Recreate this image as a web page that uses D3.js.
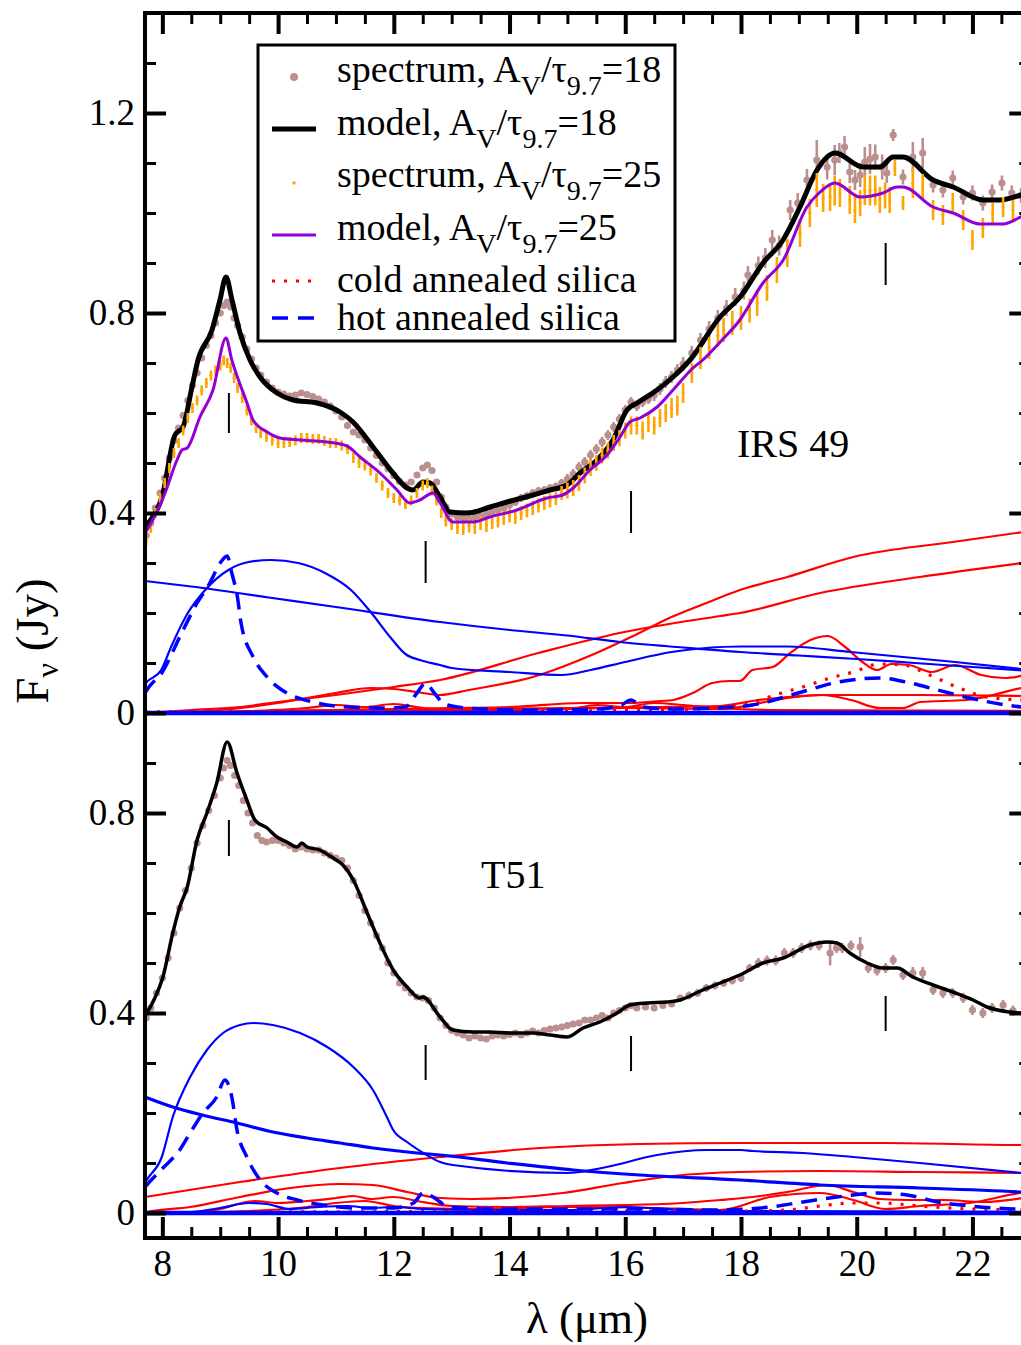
<!DOCTYPE html>
<html>
<head>
<meta charset="utf-8">
<script src="https://cdn.jsdelivr.net/npm/d3@7"></script>
<style>
  body { margin: 0; background: #fff; }
  svg { display: block; }
  text { font-family: "Liberation Serif", "Times New Roman", serif; fill: #000; }
</style>
</head>
<body>
<svg id="chart" width="1021" height="1345"></svg>
<script>
// ---------- IRS 49 (upper panel) ----------
// observed spectrum, A_V/tau_9.7 = 18 : [wavelength (um), flux (Jy), error]
const irsSpec18 = [
  [7.72,0.355,0.006],[7.80,0.38,0.006],[7.88,0.41,0.006],[7.96,0.44,0.006],[8.04,0.47,0.006],[8.12,0.51,0.006],
  [8.20,0.545,0.006],[8.28,0.57,0.006],[8.36,0.595,0.006],[8.44,0.625,0.006],[8.52,0.655,0.006],[8.60,0.68,0.006],
  [8.68,0.71,0.006],[8.76,0.735,0.006],[8.84,0.755,0.006],[8.92,0.78,0.006],[9.00,0.80,0.006],[9.06,0.815,0.006],
  [9.12,0.822,0.006],[9.18,0.812,0.006],[9.24,0.79,0.006],[9.30,0.775,0.006],[9.38,0.752,0.006],[9.46,0.728,0.006],
  [9.54,0.708,0.006],[9.62,0.69,0.006],[9.70,0.676,0.006],[9.80,0.662,0.006],[9.90,0.65,0.006],[10.0,0.642,0.006],
  [10.1,0.638,0.006],[10.2,0.634,0.006],[10.3,0.636,0.006],[10.4,0.64,0.006],[10.5,0.637,0.006],[10.6,0.633,0.006],
  [10.7,0.628,0.006],[10.8,0.622,0.006],[10.9,0.614,0.006],[11.0,0.604,0.006],[11.1,0.592,0.006],[11.2,0.575,0.006],
  [11.3,0.562,0.006],[11.4,0.556,0.006],[11.5,0.546,0.006],[11.6,0.53,0.006],[11.7,0.515,0.006],[11.8,0.50,0.006],
  [11.9,0.488,0.006],[12.0,0.475,0.006],[12.1,0.463,0.006],[12.2,0.456,0.006],[12.3,0.462,0.006],[12.4,0.476,0.006],
  [12.5,0.49,0.006],[12.58,0.496,0.006],[12.66,0.485,0.006],[12.74,0.462,0.006],[12.82,0.432,0.006],[12.9,0.412,0.006],
  [13.0,0.398,0.006],[13.1,0.392,0.008],[13.2,0.39,0.008],[13.3,0.388,0.008],[13.4,0.392,0.008],[13.5,0.394,0.008],
  [13.6,0.398,0.008],[13.7,0.402,0.008],[13.8,0.406,0.008],[13.9,0.41,0.008],[14.0,0.416,0.008],[14.1,0.422,0.008],
  [14.2,0.43,0.008],[14.3,0.434,0.008],[14.4,0.44,0.008],[14.5,0.444,0.008],[14.6,0.446,0.008],[14.7,0.45,0.008],
  [14.8,0.453,0.008],[14.9,0.46,0.008],[15.0,0.468,0.01],[15.1,0.478,0.01],[15.2,0.492,0.01],[15.3,0.502,0.01],
  [15.4,0.516,0.01],[15.5,0.528,0.01],[15.6,0.542,0.01],[15.7,0.556,0.01],[15.8,0.572,0.01],[15.9,0.588,0.01],
  [16.0,0.606,0.01],[16.1,0.622,0.01],[16.2,0.614,0.01],[16.3,0.622,0.01],[16.4,0.628,0.01],[16.5,0.636,0.012],
  [16.6,0.648,0.012],[16.7,0.662,0.012],[16.8,0.672,0.012],[16.9,0.686,0.012],[17.0,0.698,0.014],[17.15,0.72,0.014],
  [17.3,0.746,0.014],[17.45,0.768,0.016],[17.6,0.79,0.016],[17.75,0.81,0.016],[17.9,0.832,0.018],[18.05,0.845,0.018],
  [18.12,0.876,0.018],[18.3,0.895,0.018],[18.42,0.91,0.02],[18.54,0.946,0.02],[18.66,0.935,0.02],[18.85,1.006,0.02],
  [18.98,1.02,0.02],[19.14,1.066,0.022],[19.31,1.106,0.04],[19.49,1.092,0.025],[19.62,1.106,0.03],[19.7,1.12,0.02],
  [19.79,1.132,0.022],[19.88,1.082,0.022],[19.97,1.066,0.02],[20.06,1.076,0.024],[20.14,1.102,0.03],[20.23,1.108,0.03],
  [20.32,1.112,0.025],[20.44,1.092,0.025],[20.52,1.08,0.02],[20.63,1.156,0.012],[20.8,1.072,0.015],[20.97,1.112,0.03],
  [21.14,1.12,0.03],[21.32,1.056,0.015],[21.49,1.046,0.015],[21.66,1.07,0.015],[21.84,1.032,0.015],[22.0,1.04,0.015],
  [22.18,1.02,0.015],[22.34,1.042,0.015],[22.51,1.06,0.015],[22.68,1.04,0.015],[22.84,1.035,0.015]
];

// observed spectrum, A_V/tau_9.7 = 25
const irsSpec25 = [
  [7.72,0.345,0.01],[7.80,0.37,0.01],[7.88,0.40,0.01],[7.96,0.43,0.01],[8.04,0.46,0.01],[8.12,0.49,0.01],
  [8.20,0.52,0.01],[8.28,0.54,0.01],[8.36,0.565,0.01],[8.44,0.59,0.01],[8.52,0.61,0.01],[8.60,0.625,0.01],
  [8.68,0.645,0.01],[8.76,0.66,0.01],[8.84,0.675,0.01],[8.92,0.685,0.01],[9.00,0.695,0.01],[9.06,0.705,0.01],
  [9.12,0.70,0.01],[9.18,0.69,0.01],[9.24,0.67,0.01],[9.30,0.65,0.01],[9.38,0.63,0.01],[9.46,0.605,0.01],
  [9.54,0.585,0.01],[9.62,0.57,0.01],[9.70,0.56,0.01],[9.80,0.552,0.01],[9.90,0.545,0.01],[10.0,0.54,0.01],
  [10.1,0.54,0.01],[10.2,0.542,0.01],[10.3,0.545,0.01],[10.4,0.55,0.01],[10.5,0.55,0.01],[10.6,0.548,0.01],
  [10.7,0.548,0.01],[10.8,0.544,0.01],[10.9,0.54,0.01],[11.0,0.54,0.01],[11.1,0.535,0.01],[11.2,0.528,0.01],
  [11.3,0.51,0.01],[11.4,0.50,0.01],[11.5,0.495,0.01],[11.6,0.485,0.01],[11.7,0.47,0.01],[11.8,0.455,0.01],
  [11.9,0.44,0.01],[12.0,0.43,0.01],[12.1,0.425,0.01],[12.2,0.418,0.01],[12.3,0.425,0.01],[12.4,0.44,0.01],
  [12.5,0.455,0.01],[12.58,0.46,0.01],[12.66,0.445,0.01],[12.74,0.425,0.01],[12.82,0.40,0.01],[12.9,0.385,0.012],
  [13.0,0.378,0.012],[13.1,0.372,0.014],[13.2,0.37,0.014],[13.3,0.375,0.014],[13.4,0.372,0.014],[13.5,0.38,0.014],
  [13.6,0.376,0.014],[13.7,0.382,0.014],[13.8,0.385,0.014],[13.9,0.39,0.014],[14.0,0.395,0.014],[14.1,0.392,0.014],
  [14.2,0.40,0.014],[14.3,0.405,0.014],[14.4,0.41,0.014],[14.5,0.415,0.014],[14.6,0.42,0.014],[14.7,0.425,0.014],
  [14.8,0.43,0.014],[14.9,0.44,0.014],[15.0,0.445,0.016],[15.1,0.45,0.016],[15.2,0.46,0.016],[15.3,0.475,0.016],
  [15.4,0.49,0.016],[15.5,0.50,0.016],[15.6,0.515,0.016],[15.7,0.525,0.016],[15.8,0.54,0.016],[15.9,0.55,0.016],
  [16.0,0.565,0.016],[16.1,0.575,0.018],[16.2,0.575,0.018],[16.3,0.565,0.018],[16.4,0.58,0.018],[16.5,0.575,0.018],
  [16.6,0.59,0.018],[16.7,0.60,0.018],[16.8,0.61,0.02],[16.9,0.615,0.02],[17.0,0.64,0.02],[17.15,0.68,0.02],
  [17.3,0.71,0.022],[17.45,0.73,0.022],[17.6,0.755,0.022],[17.7,0.766,0.024],[17.85,0.78,0.024],[18.0,0.79,0.024],
  [18.15,0.805,0.024],[18.28,0.82,0.026],[18.45,0.85,0.026],[18.62,0.886,0.026],[18.8,0.92,0.028],[19.02,0.96,0.028],
  [19.19,1.0,0.028],[19.31,1.046,0.034],[19.42,1.03,0.028],[19.54,1.032,0.028],[19.62,1.045,0.03],[19.71,1.04,0.028],
  [19.88,1.026,0.028],[19.97,1.006,0.026],[20.06,1.02,0.026],[20.14,1.046,0.03],[20.23,1.045,0.03],[20.32,1.045,0.03],
  [20.4,1.026,0.026],[20.49,1.035,0.026],[20.57,1.026,0.026],[20.66,1.09,0.016],[20.8,1.02,0.014],[20.97,1.06,0.03],
  [21.14,1.052,0.026],[21.32,1.006,0.02],[21.49,0.996,0.02],[21.66,1.02,0.02],[21.84,0.986,0.02],[22.0,0.946,0.02],
  [22.18,0.97,0.02],[22.35,1.0,0.02],[22.53,1.012,0.02],[22.7,1.006,0.02]
];

// fitted models [wavelength, flux]
const irsModel18 = [
  [7.7,0.37],[7.735,0.376],[7.994,0.432],[8.218,0.556],[8.357,0.572],[8.512,0.652],[8.616,0.706],[8.858,0.766],
  [8.996,0.826],[9.10,0.872],[9.204,0.826],[9.342,0.76],[9.515,0.706],[9.688,0.672],[9.981,0.64],[10.258,0.626],
  [10.673,0.62],[11.07,0.602],[11.295,0.582],[11.641,0.532],[11.986,0.48],[12.228,0.45],[12.332,0.446],[12.505,0.462],
  [12.626,0.46],[12.798,0.432],[12.971,0.402],[13.265,0.40],[13.663,0.412],[13.956,0.422],[14.406,0.436],[14.70,0.446],
  [14.993,0.456],[15.218,0.48],[15.512,0.506],[15.788,0.546],[16.03,0.606],[16.203,0.62],[16.549,0.646],[16.825,0.672],
  [17.119,0.706],[17.638,0.792],[17.984,0.832],[18.381,0.90],[18.727,0.946],[19.02,1.012],[19.314,1.086],[19.625,1.12],
  [20.109,1.092],[20.403,1.092],[20.628,1.112],[20.801,1.112],[21.319,1.066],[21.665,1.052],[22.183,1.026],[22.477,1.026],
  [22.84,1.036],[23.0,1.042]
];
const irsModel25 = [
  [7.7,0.36],[7.735,0.366],[8.046,0.44],[8.253,0.506],[8.34,0.526],[8.43,0.53],[8.65,0.592],[8.875,0.646],[9.10,0.75],
  [9.20,0.706],[9.255,0.686],[9.463,0.62],[9.567,0.586],[9.81,0.562],[10.033,0.55],[10.38,0.546],[10.846,0.542],
  [11.19,0.534],[11.416,0.512],[11.76,0.48],[12.055,0.446],[12.28,0.42],[12.45,0.426],[12.677,0.44],[12.8,0.42],
  [13.02,0.382],[13.37,0.382],[13.66,0.392],[14.13,0.406],[14.65,0.43],[14.92,0.436],[15.1,0.45],[15.39,0.486],
  [15.685,0.516],[15.91,0.552],[16.08,0.582],[16.255,0.59],[16.55,0.612],[16.825,0.646],[17.17,0.69],[17.34,0.706],
  [17.64,0.742],[17.98,0.786],[18.38,0.86],[18.73,0.906],[19.14,1.012],[19.366,1.042],[19.625,1.06],[20.06,1.032],
  [20.455,1.04],[20.7,1.052],[20.8,1.052],[21.32,1.012],[21.665,1.0],[22.13,0.978],[22.53,0.978],[22.84,0.992],[23.0,0.998]
];

// dust components for IRS 49
const irsBlueLine = [
  [7.7,0.264],[8.5,0.253],[9.9,0.23],[11.0,0.212],[12.8,0.182],[14.0,0.166],[15.0,0.155],[15.91,0.142],
  [17.0,0.131],[17.98,0.122],[19.0,0.115],[20.0,0.108],[21.0,0.1],[22.0,0.092],[23.0,0.084]
];
const irsBlueBump = [
  [7.7,0.058],[7.73,0.062],[7.98,0.086],[8.15,0.132],[8.44,0.2],[8.74,0.246],[9.14,0.286],[9.49,0.302],[9.88,0.306],
  [10.35,0.300],[10.81,0.28],[11.26,0.246],[11.6,0.202],[11.95,0.15],[12.2,0.118],[12.45,0.106],[12.8,0.096],
  [13.0,0.09],[14.0,0.082],[14.9,0.076],[15.4,0.086],[16.0,0.102],[16.8,0.122],[17.4,0.13],[18.0,0.133],[18.8,0.133],
  [19.9,0.122],[21.7,0.102],[23.0,0.086]
];
const irsHotSilica = [
  [7.7,0.04],[7.73,0.046],[8.0,0.082],[8.3,0.152],[8.6,0.22],[8.82,0.26],[9.0,0.30],[9.12,0.314],[9.2,0.28],[9.3,0.23],
  [9.36,0.18],[9.57,0.112],[9.81,0.072],[10.15,0.04],[10.6,0.022],[11.2,0.012],[11.9,0.01],[12.2,0.012],[12.4,0.04],
  [12.55,0.06],[12.7,0.04],[12.85,0.02],[13.0,0.014],[13.5,0.008],[14.5,0.006],[15.5,0.008],[15.9,0.014],[16.1,0.026],
  [16.3,0.012],[16.8,0.008],[17.6,0.01],[18.2,0.016],[19.05,0.042],[19.6,0.06],[20.4,0.07],[20.85,0.062],[21.4,0.046],
  [21.95,0.03],[22.84,0.012],[23.0,0.01]
];
const irsColdSilica = [
  [7.7,0.002],[10.0,0.003],[12.0,0.004],[14.0,0.004],[16.0,0.005],[17.2,0.008],[17.64,0.01],[18.2,0.022],[18.7,0.04],
  [19.07,0.052],[19.54,0.07],[19.94,0.082],[20.4,0.098],[20.8,0.096],[21.26,0.076],[21.77,0.05],[22.24,0.032],
  [22.84,0.026],[23.0,0.025]
];
const irsRed = [
  [[7.7,0.0],[8.5,0.002],[9.0,0.006],[9.5,0.012],[10.0,0.02],[10.5,0.03],[11.0,0.04],[11.6,0.05],[12.0,0.048],
   [12.4,0.042],[12.8,0.036],[13.3,0.046],[14.4,0.072],[15.5,0.12],[16.1,0.152],[16.8,0.192],[17.4,0.22],[17.98,0.246],
   [18.8,0.272],[19.94,0.312],[21.66,0.342],[23.0,0.364]],
  [[7.7,0.0],[8.5,0.006],[9.34,0.012],[10.0,0.022],[11.0,0.036],[12.0,0.052],[12.8,0.066],[14.5,0.12],[15.9,0.16],
   [17.64,0.194],[17.98,0.2],[19.37,0.24],[21.09,0.272],[23.0,0.302]],
  [[7.7,0.0],[10.0,0.004],[12.0,0.008],[13.0,0.01],[14.0,0.012],[15.27,0.02],[16.08,0.02],[16.6,0.024],[16.83,0.026],
   [17.17,0.04],[17.5,0.06],[17.8,0.064],[17.98,0.064],[18.2,0.086],[18.55,0.092],[18.85,0.12],[19.2,0.146],[19.5,0.154],
   [19.8,0.132],[20.1,0.102],[20.35,0.086],[20.6,0.098],[20.9,0.096],[21.3,0.082],[21.7,0.096],[22.15,0.076],
   [22.55,0.07],[23.0,0.078]],
  [[7.7,0.0],[9.0,0.002],[11.0,0.006],[13.0,0.008],[15.0,0.01],[16.5,0.012],[17.64,0.014],[18.3,0.026],[18.8,0.032],
   [19.4,0.036],[21.1,0.036],[23.0,0.034]],
  [[7.7,0.0],[12.0,0.004],[14.0,0.006],[16.0,0.01],[17.64,0.008],[18.8,0.03],[19.4,0.036],[19.9,0.026],[20.4,0.01],
   [20.8,0.01],[21.1,0.022],[21.9,0.026],[22.84,0.05],[23.0,0.054]],
  [[7.7,0.0],[9.5,0.004],[10.5,0.01],[11.0,0.016],[11.5,0.012],[12.0,0.018],[12.5,0.01],[13.0,0.006],[14.0,0.008],
   [15.0,0.008],[15.5,0.016],[16.0,0.012],[16.5,0.02],[17.0,0.016],[17.6,0.01],[18.5,0.006],[23.0,0.004]]
];
const irsZero = [[7.7,0],[23.0,0]];

// ---------- T51 (lower panel) ----------
const t51Spec = [
  [7.72,0.39,0.006],[7.80,0.41,0.006],[7.90,0.44,0.006],[8.00,0.47,0.006],[8.10,0.51,0.006],[8.20,0.56,0.006],
  [8.30,0.61,0.006],[8.40,0.645,0.006],[8.50,0.69,0.006],[8.60,0.74,0.006],[8.70,0.775,0.006],[8.80,0.805,0.006],
  [8.90,0.835,0.006],[9.00,0.87,0.006],[9.06,0.89,0.006],[9.12,0.905,0.006],[9.18,0.895,0.006],[9.25,0.875,0.006],
  [9.32,0.855,0.006],[9.40,0.825,0.006],[9.48,0.80,0.006],[9.56,0.78,0.006],[9.64,0.755,0.006],[9.72,0.745,0.006],
  [9.80,0.742,0.006],[9.90,0.745,0.006],[10.0,0.745,0.006],[10.1,0.74,0.006],[10.2,0.735,0.006],[10.3,0.728,0.006],
  [10.4,0.732,0.006],[10.5,0.728,0.006],[10.6,0.726,0.006],[10.7,0.726,0.006],[10.8,0.72,0.006],[10.9,0.715,0.006],
  [11.0,0.71,0.006],[11.1,0.705,0.006],[11.2,0.69,0.006],[11.3,0.665,0.006],[11.4,0.635,0.006],[11.5,0.605,0.006],
  [11.6,0.58,0.006],[11.7,0.555,0.006],[11.8,0.53,0.006],[11.9,0.50,0.006],[12.0,0.48,0.006],[12.1,0.46,0.006],
  [12.2,0.45,0.006],[12.3,0.44,0.006],[12.4,0.432,0.006],[12.5,0.43,0.006],[12.6,0.425,0.006],[12.7,0.41,0.006],
  [12.8,0.39,0.006],[12.9,0.375,0.006],[13.0,0.365,0.006],[13.1,0.36,0.006],[13.2,0.356,0.006],[13.3,0.35,0.006],
  [13.4,0.354,0.006],[13.5,0.35,0.006],[13.6,0.348,0.006],[13.7,0.354,0.006],[13.8,0.356,0.006],[13.9,0.354,0.006],
  [14.0,0.357,0.006],[14.1,0.36,0.006],[14.2,0.356,0.006],[14.3,0.36,0.006],[14.4,0.364,0.006],[14.5,0.36,0.006],
  [14.6,0.365,0.006],[14.7,0.368,0.006],[14.8,0.37,0.006],[14.9,0.372,0.006],[15.0,0.375,0.006],[15.1,0.378,0.006],
  [15.2,0.38,0.006],[15.3,0.386,0.006],[15.4,0.386,0.006],[15.5,0.39,0.006],[15.6,0.395,0.006],[15.7,0.39,0.006],
  [15.8,0.40,0.006],[15.9,0.405,0.006],[16.0,0.41,0.006],[16.1,0.415,0.006],[16.2,0.41,0.006],[16.35,0.412,0.006],
  [16.5,0.41,0.006],[16.65,0.415,0.006],[16.8,0.418,0.006],[16.95,0.43,0.006],[17.1,0.435,0.008],[17.25,0.44,0.008],
  [17.4,0.45,0.008],[17.55,0.455,0.008],[17.7,0.46,0.008],[17.85,0.465,0.008],[18.0,0.47,0.008],[18.15,0.49,0.008],
  [18.3,0.50,0.01],[18.45,0.505,0.01],[18.6,0.505,0.01],[18.75,0.52,0.01],[18.9,0.52,0.01],[19.05,0.53,0.01],
  [19.2,0.535,0.01],[19.35,0.535,0.01],[19.54,0.52,0.025],[19.65,0.53,0.01],[19.75,0.53,0.01],[19.9,0.535,0.01],
  [20.06,0.532,0.02],[20.2,0.49,0.01],[20.35,0.485,0.01],[20.5,0.49,0.01],[20.63,0.506,0.01],[20.8,0.476,0.01],
  [20.97,0.48,0.012],[21.14,0.48,0.012],[21.32,0.446,0.01],[21.49,0.44,0.01],[21.66,0.44,0.01],[21.84,0.43,0.01],
  [22.0,0.406,0.01],[22.18,0.40,0.01],[22.34,0.41,0.01],[22.53,0.416,0.01],[22.7,0.405,0.01]
];
const t51Model = [
  [7.7,0.395],[7.73,0.40],[7.87,0.43],[8.01,0.472],[8.18,0.56],[8.3,0.612],[8.43,0.652],[8.6,0.746],[8.77,0.80],
  [8.94,0.86],[9.12,0.942],[9.29,0.88],[9.46,0.826],[9.6,0.786],[9.81,0.77],[9.98,0.752],[10.15,0.742],[10.33,0.732],
  [10.41,0.74],[10.5,0.732],[10.72,0.726],[10.95,0.71],[11.12,0.696],[11.3,0.666],[11.54,0.60],[11.76,0.54],
  [11.99,0.486],[12.23,0.452],[12.45,0.43],[12.5,0.432],[12.8,0.392],[13.02,0.366],[13.37,0.362],[13.66,0.362],
  [14.0,0.36],[14.4,0.36],[14.7,0.356],[14.99,0.352],[15.27,0.37],[15.56,0.382],[15.86,0.40],[16.08,0.416],
  [16.38,0.42],[16.72,0.422],[16.95,0.426],[17.3,0.444],[17.64,0.46],[17.98,0.476],[18.38,0.50],[18.73,0.51],
  [19.19,0.536],[19.49,0.542],[19.66,0.54],[19.88,0.52],[20.18,0.50],[20.45,0.49],[20.7,0.49],[20.97,0.472],
  [21.32,0.456],[21.66,0.442],[22.01,0.426],[22.25,0.412],[22.65,0.402],[22.84,0.40],[23.0,0.40]
];
const t51BlueBump = [
  [7.7,0.06],[7.73,0.066],[7.99,0.112],[8.18,0.192],[8.48,0.272],[8.77,0.326],[9.05,0.36],[9.34,0.376],[9.57,0.38],
  [9.91,0.376],[10.38,0.36],[10.85,0.332],[11.3,0.292],[11.64,0.246],[11.88,0.192],[11.99,0.166],[12.23,0.142],
  [12.57,0.116],[12.8,0.102],[13.02,0.096],[14.99,0.08],[15.68,0.092],[16.55,0.116],[17.41,0.126],[18.0,0.126],
  [18.2,0.124],[19.07,0.12],[19.94,0.112],[21.09,0.1],[22.84,0.08],[23.0,0.078]
];
const t51BlueLine = [
  [7.7,0.232],[8.18,0.212],[8.69,0.196],[9.29,0.18],[9.91,0.162],[10.5,0.15],[11.07,0.14],[11.64,0.13],[12.4,0.12],
  [12.8,0.116],[13.96,0.1],[15.1,0.086],[16.25,0.076],[17.98,0.066],[19.37,0.056],[21.09,0.05],[22.84,0.042],[23.0,0.041]
];
const t51HotSilica = [
  [7.7,0.052],[7.73,0.056],[8.01,0.09],[8.3,0.126],[8.48,0.16],[8.7,0.2],[8.94,0.232],[9.08,0.266],[9.2,0.232],
  [9.29,0.166],[9.46,0.112],[9.69,0.066],[9.98,0.04],[10.33,0.026],[10.78,0.016],[11.36,0.01],[11.99,0.01],
  [12.34,0.02],[12.51,0.04],[12.68,0.032],[12.8,0.022],[12.92,0.012],[14.0,0.008],[16.0,0.008],[17.64,0.006],
  [18.5,0.012],[19.07,0.022],[19.66,0.032],[20.35,0.04],[20.87,0.036],[21.4,0.022],[21.96,0.014],[22.84,0.008],[23.0,0.008]
];
const t51ColdSilica = [
  [7.7,0.0],[10.0,0.002],[14.0,0.003],[17.0,0.004],[18.2,0.004],[18.8,0.006],[19.37,0.014],[19.94,0.02],[20.4,0.02],
  [21.09,0.014],[21.95,0.008],[23.0,0.006]
];
const t51Red = [
  [[7.7,0.032],[9.34,0.062],[11.07,0.09],[12.8,0.112],[14.53,0.13],[16.25,0.138],[17.98,0.14],[20.5,0.14],[22.84,0.136],[23.0,0.136]],
  [[7.7,0.0],[7.73,0.002],[8.48,0.012],[9.34,0.032],[10.21,0.05],[11.07,0.058],[11.64,0.056],[12.23,0.042],[12.8,0.03],
   [13.37,0.028],[14.92,0.04],[15.96,0.06],[16.83,0.074],[17.98,0.082],[19.37,0.084],[21.09,0.082],[23.0,0.08]],
  [[7.7,0.0],[8.5,0.002],[9.0,0.008],[9.3,0.018],[9.6,0.024],[10.0,0.02],[10.5,0.024],[11.0,0.03],[11.3,0.034],
   [11.6,0.028],[12.0,0.032],[12.4,0.024],[13.0,0.014],[14.0,0.012],[15.0,0.014],[16.0,0.016],[17.0,0.02],[17.64,0.026],
   [18.2,0.032],[18.8,0.042],[19.49,0.056],[19.94,0.042],[20.4,0.028],[20.9,0.026],[21.5,0.026],[22.2,0.022],[23.0,0.032]],
  [[7.7,0.0],[9.5,0.004],[10.5,0.012],[11.0,0.02],[11.5,0.024],[12.0,0.014],[12.5,0.01],[13.5,0.008],[15.0,0.012],
   [16.5,0.01],[17.64,0.006],[18.5,0.032],[19.37,0.04],[19.94,0.026],[20.5,0.008],[21.09,0.014],[21.95,0.02],
   [22.84,0.04],[23.0,0.042]]
];
const t51BlueSmall = [
  [7.7,0.0],[8.5,0.002],[9.0,0.01],[9.5,0.02],[9.8,0.018],[10.2,0.008],[10.7,0.012],[11.2,0.014],[11.6,0.01],
  [12.0,0.012],[12.5,0.008],[13.5,0.006],[15.0,0.006],[16.0,0.012],[17.0,0.006],[18.0,0.004],[23.0,0.002]
];
const t51Zero = [[7.7,0],[23.0,0]];

// feature markers: [wavelength, lower, upper]
const irsMarks = [[9.15,0.56,0.64],[12.55,0.26,0.344],[16.1,0.36,0.444],[20.5,0.856,0.94]];
const t51Marks = [[9.15,0.714,0.786],[12.55,0.266,0.336],[16.1,0.284,0.354],[20.5,0.364,0.434]];

// axis ticks
const xMajor = [8, 10, 12, 14, 16, 18, 20, 22];
const xMinor = [8.5, 9, 9.5, 10.5, 11, 11.5, 12.5, 13, 13.5, 14.5, 15, 15.5, 16.5, 17, 17.5, 18.5, 19, 19.5, 20.5, 21, 21.5, 22.5];
const topMajor = [0, 0.4, 0.8, 1.2];
const topMinor = [0.1, 0.2, 0.3, 0.5, 0.6, 0.7, 0.9, 1.0, 1.1, 1.3];
const botMajor = [0, 0.4, 0.8];
const botMinor = [0.1, 0.2, 0.3, 0.5, 0.6, 0.7, 0.9, 1.0];

// ---------- drawing ----------
const COL = { spec18: "#bc8f8f", spec25: "#ffa500", model25: "#9400d3", red: "#ff0000", blue: "#0000ff" };
const svg = d3.select("#chart");
const L = 145, R = 1030.3, TOP = 13, MID = 713, BOT = 1238;

const x = d3.scaleLinear().domain([7.7, 23]).range([L, R]);
const yTop = d3.scaleLinear().domain([0, 1.4]).range([MID, TOP]);
const yBot = d3.scaleLinear().domain([-0.05, 1.0]).range([BOT, MID]);

const defs = svg.append("defs");
defs.append("clipPath").attr("id", "clipTop").append("rect")
  .attr("x", L).attr("y", TOP).attr("width", R - L).attr("height", MID - TOP + 3);
defs.append("clipPath").attr("id", "clipBot").append("rect")
  .attr("x", L).attr("y", MID).attr("width", R - L).attr("height", BOT - MID);

function line(y) {
  return d3.line().x(d => x(d[0])).y(d => y(d[1])).curve(d3.curveMonotoneX);
}
function drawCurve(g, y, data, color, width, dash) {
  const p = g.append("path").datum(data).attr("d", line(y))
    .attr("fill", "none").attr("stroke", color).attr("stroke-width", width)
    .attr("stroke-linejoin", "round");
  if (dash) p.attr("stroke-dasharray", dash);
  return p;
}
function drawSpectrum(g, y, data, color, r, barW) {
  const s = g.append("g");
  s.selectAll("line").data(data).join("line")
    .attr("x1", d => x(d[0])).attr("x2", d => x(d[0]))
    .attr("y1", d => y(d[1] - d[2])).attr("y2", d => y(d[1] + d[2]))
    .attr("stroke", color).attr("stroke-width", barW);
  s.selectAll("circle").data(data).join("circle")
    .attr("cx", d => x(d[0])).attr("cy", d => y(d[1])).attr("r", r).attr("fill", color);
}

// upper panel
const gT = svg.append("g").attr("clip-path", "url(#clipTop)");
irsRed.forEach(c => drawCurve(gT, yTop, c, COL.red, 2.2));
drawCurve(gT, yTop, irsBlueLine, COL.blue, 2.2);
drawCurve(gT, yTop, irsBlueBump, COL.blue, 2.2);
drawCurve(gT, yTop, irsColdSilica, COL.red, 3.2, "3,9");
drawCurve(gT, yTop, irsHotSilica, COL.blue, 3.5, "16,9");
drawSpectrum(gT, yTop, irsSpec18, COL.spec18, 3.6, 2.6);
drawCurve(gT, yTop, irsModel18, "#000", 5);
drawSpectrum(gT, yTop, irsSpec25, COL.spec25, 1.6, 2.6);
drawCurve(gT, yTop, irsModel25, COL.model25, 3);

// lower panel
const gB = svg.append("g").attr("clip-path", "url(#clipBot)");
t51Red.forEach(c => drawCurve(gB, yBot, c, COL.red, 2.2));
drawCurve(gB, yBot, t51BlueSmall, COL.blue, 2.2);
drawCurve(gB, yBot, t51BlueBump, COL.blue, 2.2);
drawCurve(gB, yBot, t51BlueLine, COL.blue, 3.2);
drawCurve(gB, yBot, t51ColdSilica, COL.red, 3.2, "3,9");
drawCurve(gB, yBot, t51HotSilica, COL.blue, 3.5, "16,9");
drawSpectrum(gB, yBot, t51Spec, COL.spec18, 3.6, 2.6);
drawCurve(gB, yBot, t51Model, "#000", 3.5);

// frame and panel divider
svg.append("line").attr("x1", L).attr("x2", R).attr("y1", MID).attr("y2", MID)
  .attr("stroke", "#000").attr("stroke-width", 3);
drawCurve(svg.append("g"), yTop, irsZero, COL.blue, 4.5);
drawCurve(gB, yBot, t51Zero, COL.blue, 4.5);
svg.append("rect").attr("x", L).attr("y", TOP).attr("width", R - L).attr("height", BOT - TOP)
  .attr("fill", "none").attr("stroke", "#000").attr("stroke-width", 4);

// feature markers
function drawMarks(y, data) {
  svg.append("g").selectAll("line").data(data).join("line")
    .attr("x1", d => x(d[0])).attr("x2", d => x(d[0]))
    .attr("y1", d => y(d[1])).attr("y2", d => y(d[2]))
    .attr("stroke", "#000").attr("stroke-width", 2);
}
drawMarks(yTop, irsMarks);
drawMarks(yBot, t51Marks);

// ticks
function ticks(axis, values, size, width, transform) {
  const g = svg.append("g").attr("transform", transform)
    .call(axis.tickValues(values).tickSize(size).tickFormat(""));
  g.select(".domain").remove();
  g.selectAll(".tick line").attr("stroke", "#000").attr("stroke-width", width);
}
// left/right (pointing inward)
ticks(d3.axisRight(yTop), topMajor, 21, 4, `translate(${L},0)`);
ticks(d3.axisRight(yTop), topMinor, 11, 3, `translate(${L},0)`);
ticks(d3.axisLeft(yTop), topMajor, 21, 4, `translate(${R},0)`);
ticks(d3.axisLeft(yTop), topMinor, 11, 3, `translate(${R},0)`);
ticks(d3.axisRight(yBot), botMajor, 21, 4, `translate(${L},0)`);
ticks(d3.axisRight(yBot), botMinor, 11, 3, `translate(${L},0)`);
ticks(d3.axisLeft(yBot), botMajor, 21, 4, `translate(${R},0)`);
ticks(d3.axisLeft(yBot), botMinor, 11, 3, `translate(${R},0)`);
// top/bottom
ticks(d3.axisBottom(x), xMajor, 21, 4, `translate(0,${TOP})`);
ticks(d3.axisBottom(x), xMinor, 11, 3, `translate(0,${TOP})`);
ticks(d3.axisTop(x), xMajor, 21, 4, `translate(0,${BOT})`);
ticks(d3.axisTop(x), xMinor, 11, 3, `translate(0,${BOT})`);

// tick labels
const yFmt = d => d === 0 ? "0" : d3.format(".1f")(d);
function labels(axis, values, fmt, transform, pad) {
  const g = svg.append("g").attr("transform", transform)
    .call(axis.tickValues(values).tickSize(0).tickPadding(pad).tickFormat(fmt));
  g.select(".domain").remove();
  g.selectAll("text").attr("font-size", 37).attr("font-family", "Liberation Serif, serif").attr("fill", "#000");
}
labels(d3.axisLeft(yTop), topMajor, yFmt, `translate(${L},0)`, 10);
labels(d3.axisLeft(yBot), botMajor, yFmt, `translate(${L},0)`, 10);
labels(d3.axisBottom(x), xMajor, d3.format("d"), `translate(0,${BOT})`, 12);

// axis titles
svg.append("text").attr("x", 587).attr("y", 1333).attr("text-anchor", "middle")
  .attr("font-size", 45).text("λ (μm)");
const yl = svg.append("text").attr("transform", "translate(48,641) rotate(-90)")
  .attr("text-anchor", "middle").attr("font-size", 47);
yl.append("tspan").text("F");
yl.append("tspan").attr("font-size", 32).attr("dy", 10).text("ν");
yl.append("tspan").attr("dy", -10).text(" (Jy)");

// panel names
svg.append("text").attr("x", 737).attr("y", 457).attr("font-size", 40).text("IRS 49");
svg.append("text").attr("x", 481).attr("y", 888).attr("font-size", 40).text("T51");

// legend
const leg = svg.append("g");
leg.append("rect").attr("x", 258).attr("y", 45).attr("width", 417).attr("height", 296)
  .attr("fill", "#fff").attr("stroke", "#000").attr("stroke-width", 3);
const legItems = [
  { kind: "dot", color: COL.spec18, r: 4, ys: 77, yb: 82, label: ["spectrum", "18"] },
  { kind: "line", color: "#000", w: 5, ys: 129, yb: 135, label: ["model", "18"] },
  { kind: "dot", color: COL.spec25, r: 1.8, ys: 183, yb: 187, label: ["spectrum", "25"] },
  { kind: "line", color: COL.model25, w: 3, ys: 235, yb: 240, label: ["model", "25"] },
  { kind: "line", color: COL.red, w: 3.2, dash: "3,9", ys: 281, yb: 292, text: "cold annealed silica" },
  { kind: "line", color: COL.blue, w: 3.5, dash: "16,10", ys: 318, yb: 330, text: "hot annealed silica" }
];
legItems.forEach(it => {
  if (it.kind === "dot") {
    leg.append("circle").attr("cx", 294).attr("cy", it.ys).attr("r", it.r).attr("fill", it.color);
  } else {
    const l = leg.append("line").attr("x1", 272).attr("x2", 316).attr("y1", it.ys).attr("y2", it.ys)
      .attr("stroke", it.color).attr("stroke-width", it.w);
    if (it.dash) l.attr("stroke-dasharray", it.dash);
  }
  const t = leg.append("text").attr("x", 337).attr("y", it.yb).attr("font-size", 38);
  if (it.text) {
    t.text(it.text);
  } else {
    t.append("tspan").text(it.label[0] + ", A");
    t.append("tspan").attr("font-size", 28).attr("dy", 13).text("V");
    t.append("tspan").attr("dy", -13).text("/τ");
    t.append("tspan").attr("font-size", 28).attr("dy", 13).text("9.7");
    t.append("tspan").attr("dy", -13).text("=" + it.label[1]);
  }
});
</script>
</body>
</html>
